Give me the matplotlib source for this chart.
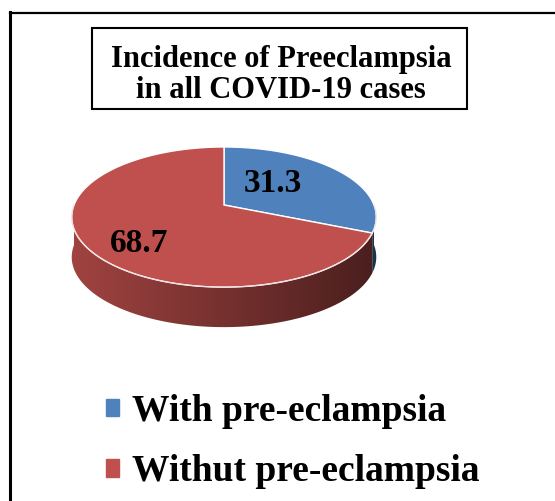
import numpy as np
import matplotlib
matplotlib.use('Agg')
import matplotlib.pyplot as plt
from matplotlib.patches import Patch, Rectangle, Polygon
from matplotlib.lines import Line2D

# data
labels = ['With pre-eclampsia', 'Withut pre-eclampsia']
values = [31.3, 68.7]
colors = ['#4F81BD', '#C0504D']
title = 'Incidence of Preeclampsia\nin all COVID-19 cases'

plt.rcParams['font.family'] = ['Liberation Serif', 'DejaVu Serif']
plt.rcParams['font.weight'] = 'bold'

fig = plt.figure(figsize=(5.55, 5.01), dpi=100)
ax = fig.add_axes([0, 0, 1, 1])

# pie geometry (pixels), simple perspective: back shrinks, front grows
cx, cy = 224, 205
a, b = 150, 68
k = 0.172
depth = 40


def pt(t):
    t = np.radians(t)
    u, v = np.cos(t), np.sin(t)
    d = 1 + k * v
    return cx + a * u / d, cy - b * v / d


fracs = np.array(values) / np.sum(values) * 360
ends = 90 - np.cumsum(fracs)
starts = ends + fracs

# side wall (front half) with a left-to-right darkening gradient
x0, x1 = cx - a - 5, cx + a + 5
shade = np.linspace(0.84, 0.38, 300)
for s, e, col in zip(starts, ends, colors):
    lo, hi = max(e, -180), min(s, 0)
    if hi <= lo:
        continue
    ts = np.linspace(lo, hi, 150)
    xs, ys = pt(ts)
    poly = Polygon(np.c_[np.r_[xs, xs[::-1]], np.r_[ys, ys[::-1] + depth]],
                   closed=True, fc='none', ec='none')
    ax.add_patch(poly)
    base = np.array(matplotlib.colors.to_rgb(col))
    grad = np.clip(shade[None, :, None] * base[None, None, :], 0, 1)
    im = ax.imshow(grad, extent=(x0, x1, cy + b * 2 + depth, cy - b * 2),
                   aspect='auto', interpolation='bilinear')
    im.set_clip_path(poly)
ts = np.linspace(-180, 0, 200)
xs, ys = pt(ts)
ax.plot(xs, ys, color='#f0e0e0', lw=0.8)

# top face
for s, e, col in zip(starts, ends, colors):
    ts = np.linspace(s, e, 200)
    xs, ys = pt(ts)
    ax.fill(np.r_[cx, xs], np.r_[cy, ys], color=col, ec='white', lw=1.0)

# value labels
label_pos = [(273, 184), (139, 244)]
for v, (lx, ly) in zip(values, label_pos):
    ax.text(lx, ly, f'{v}', fontsize=24, fontweight='bold',
            ha='center', va='center')

# title box
ax.add_patch(Rectangle((92, 28), 375, 81, fc='white', ec='black', lw=1.5))
ax.text(281, 75, title, fontsize=22, fontweight='bold', ha='center',
        va='center', linespacing=1.1)

# legend
handles = [Patch(color=c) for c in colors]
ax.legend(handles, labels, loc='upper left', bbox_to_anchor=(106, 394),
          bbox_transform=ax.transData, frameon=False, borderpad=0,
          borderaxespad=0, handlelength=0.35, handleheight=0.35,
          handletextpad=0.33, labelspacing=0.67,
          prop={'family': 'Liberation Serif', 'weight': 'bold', 'size': 27})

ax.set_xlim(0, 555)
ax.set_ylim(501, 0)
ax.axis('off')

# chart border (left and top)
fig.add_artist(Line2D([10 / 555, 10 / 555], [0, 1 - 12 / 501], color='black', lw=2.2))
fig.add_artist(Line2D([10 / 555, 1], [1 - 13 / 501, 1 - 13 / 501], color='black', lw=1.6))

fig.savefig('out.png', dpi=100)
